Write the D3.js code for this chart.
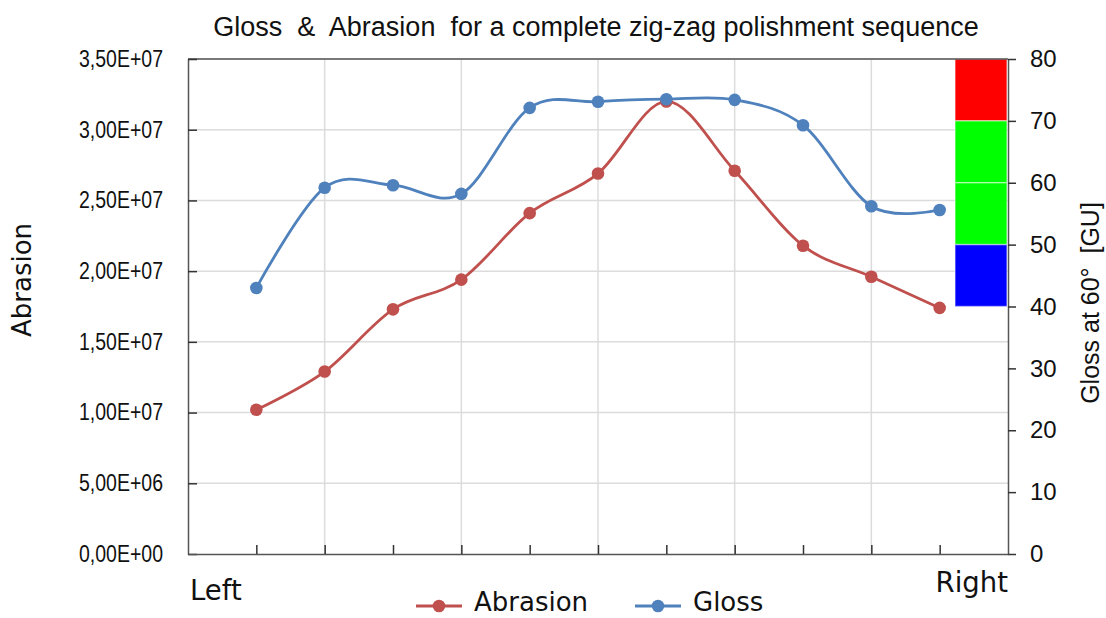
<!DOCTYPE html>
<html><head><meta charset="utf-8">
<script src="https://cdn.jsdelivr.net/npm/d3@7"></script>
<style>body{margin:0;background:#fff}svg{display:block}</style>
</head><body>
<svg id="c" width="1106" height="618"></svg>
<script>
const categories = ["Left","2","3","4","5","6","7","8","9","10","Right"];
const abrasion = [1.02e7,1.29e7,1.73e7,1.94e7,2.41e7,2.69e7,3.20e7,2.71e7,2.18e7,1.96e7,1.74e7];
const gloss = [43.0,59.2,59.6,58.2,72.1,73.1,73.5,73.4,69.3,56.2,55.6];
const leftTicks = [0,5e6,1e7,1.5e7,2e7,2.5e7,3e7,3.5e7];
const rightTicks = [0,10,20,30,40,50,60,70,80];
const bands = [
  {lo:70,hi:80,color:"#ff0000"},
  {lo:60,hi:70,color:"#00ff00"},
  {lo:50,hi:60,color:"#00ff00"},
  {lo:40,hi:50,color:"#0000ff"}
];
const seriesNames = ["Abrasion","Gloss"];
const seriesColors = ["#c0504d","#4f81bd"];

const svg = d3.select("#c");
const L=188,R=1008,T=59,B=554;
const x = d3.scaleLinear().domain([-1,categories.length]).range([L,R]);
const yL = d3.scaleLinear().domain([0,3.5e7]).range([B,T]);
const yR = d3.scaleLinear().domain([0,80]).range([B,T]);
const fmt = v => { const s = v.toExponential(2).replace(".",","); const m = s.match(/^(.*)e([+-])(\d+)$/); return m[1]+"E"+m[2]+m[3].padStart(2,"0"); };
const ARIAL = "Liberation Sans, Arial, sans-serif";
const DEJA = "DejaVu Sans, sans-serif";

// gridlines
svg.append("g").selectAll("line").data(leftTicks.slice(1)).join("line")
  .attr("x1",L).attr("x2",R).attr("y1",d=>yL(d)).attr("y2",d=>yL(d))
  .attr("stroke","#dcdcdc").attr("stroke-width",1.5);
svg.append("g").selectAll("line").data(categories.map((c,i)=>i).filter(i=>i%2===1)).join("line")
  .attr("x1",d=>x(d)).attr("x2",d=>x(d)).attr("y1",T).attr("y2",B)
  .attr("stroke","#dcdcdc").attr("stroke-width",1.5);

// color bands
svg.append("g").selectAll("rect").data(bands).join("rect")
  .attr("x",955).attr("width",52)
  .attr("y",d=>yR(d.hi)).attr("height",d=>yR(d.lo)-yR(d.hi))
  .attr("fill",d=>d.color).attr("stroke","rgba(255,255,255,0.45)").attr("stroke-width",1.5);

// frame
const ax = "#555";
svg.append("line").attr("x1",L).attr("x2",R).attr("y1",T).attr("y2",T).attr("stroke",ax).attr("stroke-width",1.5);

// left axis
const gL = svg.append("g").attr("transform",`translate(${L},0)`)
  .call(d3.axisLeft(yL).tickValues(leftTicks).tickFormat(fmt).tickSizeInner(-9).tickSizeOuter(0).tickPadding(25));
gL.select(".domain").attr("stroke",ax).attr("stroke-width",1.5);
gL.selectAll(".tick line").attr("stroke","#333").attr("stroke-width",1.5);
gL.selectAll(".tick text").attr("font-family",ARIAL).attr("font-size",23).attr("fill","#111")
  .attr("textLength",84).attr("lengthAdjust","spacingAndGlyphs");

// right axis
const gR = svg.append("g").attr("transform",`translate(${R},0)`)
  .call(d3.axisRight(yR).tickValues(rightTicks).tickSizeInner(8).tickSizeOuter(0).tickPadding(14));
gR.select(".domain").attr("stroke",ax).attr("stroke-width",1.5);
gR.selectAll(".tick line").attr("stroke","#333").attr("stroke-width",1.5);
gR.selectAll(".tick text").attr("font-family",ARIAL).attr("font-size",24).attr("fill","#111");

// bottom axis
const gB = svg.append("g").attr("transform",`translate(0,${B})`)
  .call(d3.axisBottom(x).tickValues(categories.map((c,i)=>i)).tickFormat("").tickSizeInner(-9).tickSizeOuter(0));
gB.select(".domain").attr("stroke",ax).attr("stroke-width",1.5);
gB.selectAll(".tick line").attr("stroke","#333").attr("stroke-width",1.5);

// category end labels
svg.append("text").attr("x",L+2).attr("y",600).attr("font-family",DEJA).attr("font-size",27.5).attr("fill","#111").text(categories[0]);
svg.append("text").attr("x",R).attr("y",592).attr("text-anchor","end").attr("font-family",DEJA).attr("font-size",27.5).attr("fill","#111").text(categories[categories.length-1]);

// series
const line = (ys, data) => d3.line().x((d,i)=>x(i)).y(d=>ys(d)).curve(d3.curveCardinal.tension(0))(data);
const sets = [{ys:yL,data:abrasion},{ys:yR,data:gloss}];
sets.forEach((s,k)=>{
  svg.append("path").attr("d",line(s.ys,s.data)).attr("fill","none").attr("stroke",seriesColors[k]).attr("stroke-width",2.8);
});
sets.forEach((s,k)=>{
  svg.append("g").selectAll("circle").data(s.data).join("circle")
    .attr("cx",(d,i)=>x(i)).attr("cy",d=>s.ys(d)).attr("r",6.3).attr("fill",seriesColors[k]);
});

// title
svg.append("text").attr("x",596).attr("y",36).attr("text-anchor","middle")
  .attr("font-family",ARIAL).attr("font-size",27).attr("fill","#111")
  .style("white-space","pre")
  .text("Gloss  &  Abrasion  for a complete zig-zag polishment sequence");

// axis titles
svg.append("text").attr("transform","translate(31,280) rotate(-90)").attr("text-anchor","middle")
  .attr("font-family",DEJA).attr("font-size",26).attr("fill","#111").text("Abrasion");
svg.append("text").attr("transform","translate(1099,303) rotate(-90)").attr("text-anchor","middle")
  .attr("font-family",ARIAL).attr("font-size",25).attr("fill","#111")
  .style("white-space","pre").text("Gloss at 60°  [GU]");

// legend
const legX = [416, 635];
seriesNames.forEach((n,k)=>{
  const g = svg.append("g").attr("transform",`translate(${legX[k]},606)`);
  g.append("line").attr("x1",0).attr("x2",46).attr("stroke",seriesColors[k]).attr("stroke-width",2.8);
  g.append("circle").attr("cx",23).attr("r",6.3).attr("fill",seriesColors[k]);
  g.append("text").attr("x",58).attr("y",5).attr("font-family",DEJA).attr("font-size",26).attr("fill","#111").text(n);
});
</script>
</body></html>
